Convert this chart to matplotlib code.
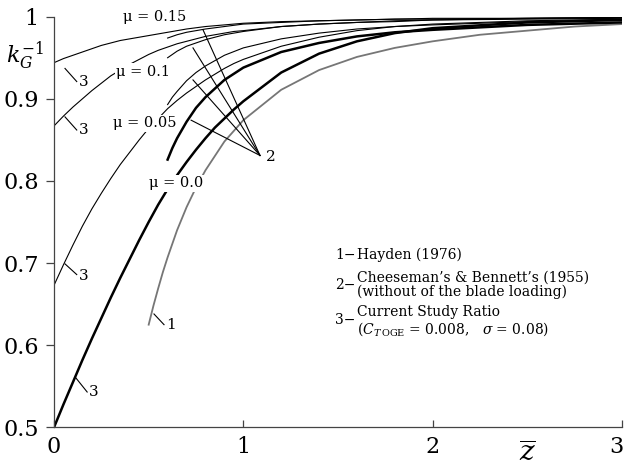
import matplotlib
matplotlib.use("Agg")
import matplotlib.pyplot as plt
from matplotlib.transforms import ScaledTranslation

plt.rcParams['font.family'] = ['DejaVu Serif']
plt.rcParams['mathtext.fontset'] = 'dejavuserif'

# Hayden (1976)
z_hayden = [0.5, 0.525, 0.55, 0.575, 0.6, 0.65, 0.7, 0.75, 0.8, 0.9, 1.0, 1.2, 1.4, 1.6, 1.8, 2.0,
            2.25, 2.5, 2.75, 3.0]
k_hayden = [0.625, 0.648, 0.669, 0.689, 0.707, 0.740, 0.768, 0.792, 0.813, 0.848, 0.874, 0.911,
            0.935, 0.951, 0.962, 0.970, 0.978, 0.983, 0.988, 0.991]

# Cheeseman & Bennett (1955)
z_cb = [0.6, 0.625, 0.65, 0.7, 0.75, 0.8, 0.9, 1.0, 1.2, 1.4, 1.6, 1.8, 2.0, 2.5, 3.0]
k_cb_mu0 = [0.826, 0.840, 0.852, 0.872, 0.889, 0.902, 0.923, 0.938, 0.957, 0.968, 0.976, 0.981,
            0.984, 0.990, 0.993]
k_cb_mu005 = [0.893, 0.902, 0.909, 0.922, 0.932, 0.940, 0.953, 0.962, 0.973, 0.980, 0.985, 0.988,
              0.990, 0.994, 0.996]
k_cb_mu01 = [0.950, 0.954, 0.958, 0.964, 0.968, 0.972, 0.978, 0.982, 0.988, 0.991, 0.993, 0.994,
             0.996, 0.997, 0.998]
k_cb_mu015 = [0.974, 0.976, 0.978, 0.981, 0.983, 0.985, 0.988, 0.991, 0.993, 0.995, 0.996, 0.997,
              0.998, 0.998, 0.999]

# current study
z_cs = [0, 0.05, 0.1, 0.15, 0.2, 0.25, 0.3, 0.35, 0.4, 0.45, 0.5, 0.55, 0.6, 0.65, 0.7, 0.75,
        0.8, 0.85, 0.9, 0.95, 1.0, 1.2, 1.4, 1.6, 1.8, 2.0, 2.5, 3.0]
k_cs_mu0 = [0.500, 0.528, 0.555, 0.582, 0.608, 0.633, 0.658, 0.682, 0.705, 0.728, 0.750, 0.771,
            0.790, 0.807, 0.823, 0.838, 0.852, 0.865, 0.876, 0.887, 0.897, 0.932, 0.955, 0.970,
            0.980, 0.986, 0.993, 0.996]
k_cs_mu005 = [0.673, 0.698, 0.722, 0.745, 0.766, 0.785, 0.803, 0.820, 0.835, 0.850, 0.864, 0.876,
              0.888, 0.898, 0.907, 0.915, 0.923, 0.930, 0.937, 0.943, 0.948, 0.964, 0.975, 0.983,
              0.988, 0.991, 0.995, 0.997]
k_cs_mu01 = [0.867, 0.879, 0.890, 0.900, 0.910, 0.919, 0.928, 0.935, 0.942, 0.948, 0.954, 0.959,
             0.963, 0.967, 0.970, 0.973, 0.976, 0.978, 0.980, 0.982, 0.983, 0.988, 0.991, 0.993,
             0.995, 0.996, 0.998, 0.999]
k_cs_mu015 = [0.944, 0.949, 0.953, 0.957, 0.961, 0.965, 0.968, 0.971, 0.973, 0.975, 0.977, 0.979,
              0.981, 0.983, 0.985, 0.9865, 0.988, 0.989, 0.990, 0.991, 0.992, 0.994, 0.995, 0.996,
              0.997, 0.997, 0.998, 0.999]

x_ticks = [0, 1, 2, 3]
x_tick_labels = ['0', '1', '2', '3']
y_ticks = [0.5, 0.6, 0.7, 0.8, 0.9, 1.0]
y_tick_labels = ['0.5', '0.6', '0.7', '0.8', '0.9', '1']

fig = plt.figure(figsize=(6.26, 4.66), dpi=100)
ax = fig.add_axes([0.0863, 0.083, 0.9073, 0.8812])

thin = dict(color='black', lw=0.8)
thick = dict(color='black', lw=1.8)

ax.plot(z_hayden, k_hayden, color='#767676', lw=1.3)
ax.plot(z_cb, k_cb_mu0, **thick)
ax.plot(z_cb, k_cb_mu005, **thin)
ax.plot(z_cb, k_cb_mu01, **thin)
ax.plot(z_cb, k_cb_mu015, **thin)
ax.plot(z_cs, k_cs_mu0, **thick)
ax.plot(z_cs, k_cs_mu005, **thin)
ax.plot(z_cs, k_cs_mu01, **thin)
ax.plot(z_cs, k_cs_mu015, **thin)

ax.set_xlim(0, 3)
ax.set_ylim(0.5, 1.0)
for s in ['top', 'right']:
    ax.spines[s].set_visible(False)
for s in ['left', 'bottom']:
    ax.spines[s].set_color('#444444')
    ax.spines[s].set_linewidth(0.9)

ax.set_xticks(x_ticks)
ax.set_xticklabels(x_tick_labels)
ax.set_yticks(y_ticks)
ax.set_yticklabels(y_tick_labels)
ax.tick_params(axis='y', direction='out', length=6, width=0.9, pad=5, labelsize=16, color='#444444')
ax.tick_params(axis='x', direction='in', length=5, width=0.9, pad=6, labelsize=16, color='#444444')
# keep the last x label inside the figure
last = ax.get_xticklabels()[-1]
last.set_transform(last.get_transform() + ScaledTranslation(-4 / 72, 0, fig.dpi_scale_trans))

# mu labels with white background to break the curves
box = dict(facecolor='white', edgecolor='none', pad=1.0)
ax.text(0.53, 1.0, u'\u03bc = 0.15', fontsize=10.5, ha='center', va='center', zorder=5)
ax.text(0.47, 0.933, u'\u03bc = 0.1', fontsize=10.5, ha='center', va='center', bbox=box, zorder=5)
ax.text(0.48, 0.870, u'\u03bc = 0.05', fontsize=10.5, ha='center', va='center', bbox=box, zorder=5)
ax.text(0.645, 0.797, u'\u03bc = 0.0', fontsize=10.5, ha='center', va='center', bbox=box, zorder=5)

# leader lines to label "2"
for px, py in [(0.787, 0.984), (0.734, 0.962), (0.734, 0.923), (0.724, 0.874)]:
    ax.plot([px, 1.088], [py, 0.831], color='black', lw=0.8, zorder=6)
ax.text(1.12, 0.829, '2', fontsize=11, ha='left', va='center')

# leader lines for "3" and "1"
for (x0, y0, x1, y1, tx, ty, lab) in [(0.058, 0.937, 0.12, 0.921, 0.13, 0.921, '3'),
                                      (0.058, 0.878, 0.12, 0.862, 0.13, 0.862, '3'),
                                      (0.058, 0.699, 0.12, 0.686, 0.13, 0.684, '3'),
                                      (0.116, 0.560, 0.175, 0.543, 0.185, 0.543, '3'),
                                      (0.528, 0.638, 0.581, 0.625, 0.59, 0.625, '1')]:
    ax.plot([x0, x1], [y0, y1], color='black', lw=0.8)
    ax.text(tx, ty, lab, fontsize=11, ha='left', va='center')

# legend text
ax.text(1.485, 0.710, u'1\u2212', fontsize=10, ha='left', va='center')
ax.text(1.60, 0.710, 'Hayden (1976)', fontsize=10, ha='left', va='center')
ax.text(1.485, 0.673, u'2\u2212', fontsize=10, ha='left', va='center')
ax.text(1.60, 0.682, u'Cheeseman\u2019s & Bennett\u2019s (1955)', fontsize=10, ha='left', va='center')
ax.text(1.60, 0.665, '(without of the blade loading)', fontsize=10, ha='left', va='center')
ax.text(1.485, 0.631, u'3\u2212', fontsize=10, ha='left', va='center')
ax.text(1.60, 0.640, 'Current Study Ratio', fontsize=10, ha='left', va='center')
ax.text(1.60, 0.620, r'($C_{T\,\mathrm{OGE}}$ = 0.008,   $\sigma$ = 0.08)', fontsize=10,
        ha='left', va='center')

# axis labels placed as text
ax.text(-0.152, 0.953, r'$k_G^{-1}$', fontsize=16, ha='center', va='center', clip_on=False)
ax.text(2.50, 0.468, r'$\overline{z}$', fontsize=20, ha='center', va='center', clip_on=False)

fig.savefig('out.png', dpi=100)
